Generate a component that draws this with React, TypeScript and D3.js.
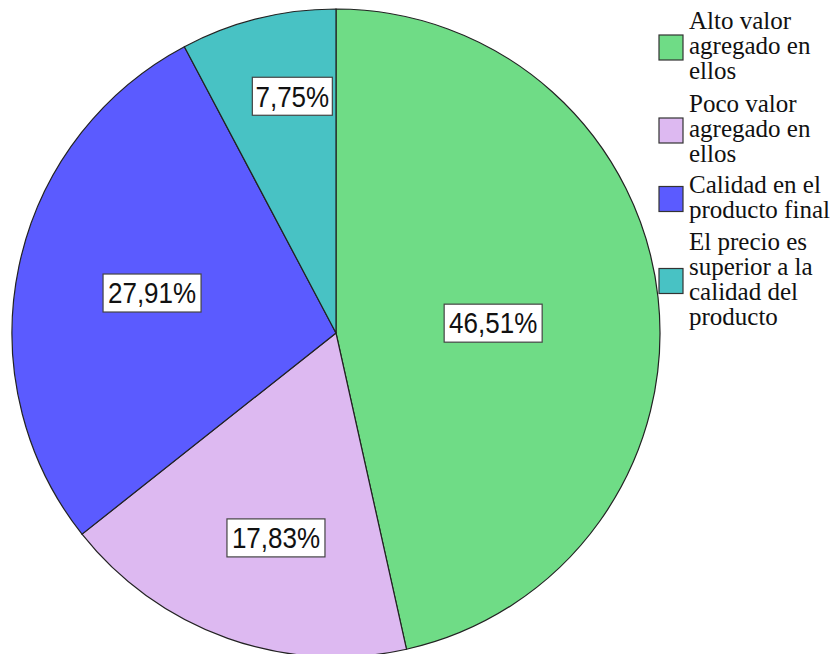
import React from "react";
import * as d3 from "d3";

const categories = [
  "Alto valor agregado en ellos",
  "Poco valor agregado en ellos",
  "Calidad en el producto final",
  "El precio es superior a la calidad del producto",
];
const values = [46.51, 17.83, 27.91, 7.75];
const valueLabels = ["46,51%", "17,83%", "27,91%", "7,75%"];
const legendLines = [
  ["Alto valor", "agregado en", "ellos"],
  ["Poco valor", "agregado en", "ellos"],
  ["Calidad en el", "producto final"],
  ["El precio es", "superior a la", "calidad del", "producto"],
];
const colors = ["#6fdc86", "#ddb9f1", "#5b5bff", "#48c2c4"];
const labelRadiusFrac = [0.486, 0.659, 0.581, 0.743];
const labelAngleOffsetDeg = [2.7, -3.2, 0.4, 3.5];

export default function App() {
  const W = 840, H = 654;
  const cx = 336, cy = 333, R = 324;
  const data = categories.map((c, i) => ({ c, v: values[i], i }));
  const pie = d3.pie<any>().value((d) => d.v).sort(null);
  const arcs = pie(data);
  const arcGen = d3.arc<any>().innerRadius(0).outerRadius(R);
  const lineH = 25;
  const legendStart = [29, 112, 193, 250];
  return (
    <svg width={W} height={H} style={{ position: "absolute", left: 0, top: 0, background: "#fff" }}>
      <g transform={`translate(${cx},${cy})`}>
        {arcs.map((a, i) => (
          <path key={i} d={arcGen(a) || ""} fill={colors[i]} stroke="#222" strokeWidth={1.2} />
        ))}
        {arcs.map((a, i) => {
          const mid = (a.startAngle + a.endAngle) / 2 + (labelAngleOffsetDeg[i] * Math.PI) / 180;
          const r = R * labelRadiusFrac[i];
          const x = Math.sin(mid) * r;
          const y = -Math.cos(mid) * r;
          const bw = valueLabels[i].length === 5 ? 80 : 98;
          const bh = 38;
          return (
            <g key={i} transform={`translate(${x},${y})`}>
              <rect x={-bw / 2} y={-bh / 2} width={bw} height={bh} fill="#fff" stroke="#444" strokeWidth={1.2} />
              <g transform="scale(1,1.1)">
                <text
                  textAnchor="middle"
                  dy="0.36em"
                  fontFamily="Liberation Sans, Arial, sans-serif"
                  fontSize={26}
                  fill="#111"
                >
                  {valueLabels[i]}
                </text>
              </g>
            </g>
          );
        })}
      </g>
      <g>
        {legendLines.map((lines, i) => {
          const y0 = legendStart[i];
          const midY = y0 + ((lines.length - 1) * lineH) / 2 - 7;
          return (
            <g key={i}>
              <rect x={659} y={midY - 12} width={24} height={25} fill={colors[i]} stroke="#333" strokeWidth={1.2} />
              <text style={{ fontFamily: "'Liberation Serif', 'Times New Roman', Times, serif" }} fontSize={25} fill="#111">
                {lines.map((l, j) => (
                  <tspan key={j} x={689} y={y0 + j * lineH}>
                    {l}
                  </tspan>
                ))}
              </text>
            </g>
          );
        })}
      </g>
    </svg>
  );
}
